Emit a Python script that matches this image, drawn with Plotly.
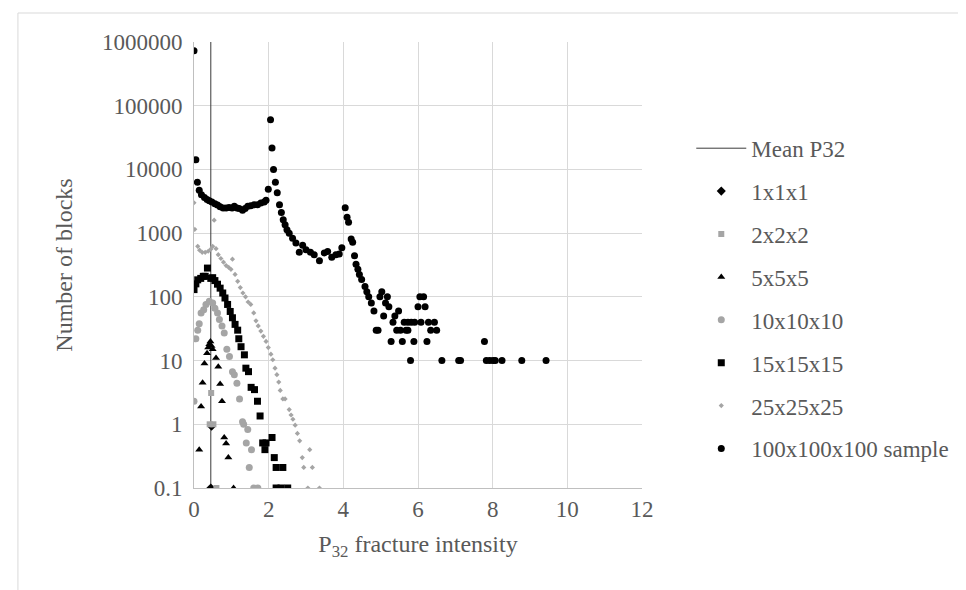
import plotly.graph_objects as go

# ---------------- data ----------------
mean_p32 = 0.45
mean_y = [0.1, 1000000]

x_1 = [0.47, 0.45]
y_1 = [0.93, 0.1]

x_2 = [0.46, 0.42, 0.52, 0.60]
y_2 = [3.1, 1.0, 1.0, 0.1]

x_5 = [0.14, 0.19, 0.23, 0.28, 0.35, 0.38, 0.41, 0.44, 0.47, 0.50, 0.59, 0.65, 0.70, 0.75, 0.81, 0.86, 0.92, 1.06]
y_5 = [0.4, 1.9, 4.5, 9, 13, 16, 18, 20, 17, 15, 11, 8, 4.3, 2.3, 0.62, 0.5, 0.3, 0.1]

x_10 = [0, 0.05, 0.10, 0.14, 0.19, 0.26, 0.32, 0.41, 0.50, 0.56, 0.63, 0.68, 0.75, 0.81, 0.88, 0.95, 1.03,
        1.08, 1.15, 1.22, 1.30, 1.33, 1.44, 1.40, 1.54, 1.48, 1.60, 1.71]
y_10 = [2.3, 22, 30, 38, 56, 63, 76, 85, 80, 66, 56, 44, 35, 27, 15, 11.6, 6.7,
        6.0, 4.4, 2.5, 1.1, 1.0, 0.83, 0.51, 0.40, 0.21, 0.1, 0.1]

x_15 = [0, 0.05, 0.10, 0.18, 0.25, 0.30, 0.36, 0.45, 0.50, 0.56, 0.63, 0.70, 0.77, 0.83, 0.90, 0.97, 1.03,
        1.10, 1.17, 1.20, 1.26, 1.35, 1.39, 1.46, 1.53, 1.62, 1.70, 1.77, 1.84, 1.90, 1.93, 2.09, 2.15,
        2.20, 2.38, 2.20, 2.33, 2.51]
y_15 = [130, 160, 185, 195, 210, 210, 283, 195, 200, 180, 158, 137, 115, 96, 76, 59, 47,
        37, 30, 22, 16.5, 12.3, 7.6, 6.7, 3.8, 3.5, 2.3, 1.35, 0.51, 0.40, 0.51, 0.62, 0.30,
        0.21, 0.21, 0.1, 0.1, 0.1]

x_25 = [0, 0.02, 0.10, 0.15, 0.22, 0.30, 0.38, 0.45, 0.54, 0.50, 0.59, 0.65, 0.72, 0.79, 0.86, 0.93,
        0.99, 1.03, 1.10, 1.17, 1.24, 1.31, 1.38, 1.45, 1.52, 1.60, 1.66, 1.72, 1.79, 1.86, 1.93,
        1.99, 2.06, 2.11, 2.17, 2.22, 2.27, 2.31, 2.38, 2.44, 2.55, 2.60, 2.65, 2.71, 2.77, 2.83,
        2.90, 2.94, 3.10, 3.17, 3.05, 3.36]
y_25 = [3000, 1150, 620, 540, 500, 500, 520, 560, 1600, 620, 570, 460, 400, 350, 310, 290,
        270, 390, 225, 175, 140, 115, 100, 83, 76, 56, 42, 35, 29, 24, 20,
        16, 12.6, 10.3, 7.6, 6.0, 4.6, 3.4, 2.5, 2.5, 1.7, 1.4, 1.2, 0.97, 0.72, 0.55,
        0.30, 0.21, 0.40, 0.21, 0.1, 0.1]

x_s = [0, 0.05, 0.09, 0.14, 0.20, 0.28, 0.35, 0.41, 0.48, 0.56, 0.63, 0.70, 0.78, 0.86, 0.94, 1.02,
       1.08, 1.15, 1.21, 1.30, 1.37, 1.44, 1.52, 1.61, 1.70, 1.79, 1.88, 1.93, 1.99, 2.05, 2.09,
       2.13, 2.18, 2.23, 2.29, 2.34, 2.39, 2.44, 2.49, 2.55, 2.64, 2.73, 2.82, 2.91, 3.00, 3.12,
       3.22, 3.36, 3.49, 3.58, 3.69, 3.80, 3.89, 3.96, 4.05, 4.10, 4.14, 4.21, 4.25, 4.30, 4.34,
       4.39, 4.43, 4.49, 4.58, 4.63, 4.68, 4.75, 4.82, 4.88, 4.93, 4.98, 5.03, 5.08, 5.13, 5.18,
       5.22, 5.28, 5.33, 5.38, 5.43, 5.48, 5.53, 5.58, 5.63, 5.68,
       5.73, 5.82, 5.91, 6.08, 6.28, 6.44, 5.73, 6.34, 6.50, 5.89, 6.24, 7.78, 6.05, 6.15, 6.00,
       6.19, 5.80, 6.64, 7.09, 7.14, 7.83, 7.92, 8.01, 8.07, 8.25, 8.78, 9.43]
y_s = [730000, 14200, 6300, 4700, 4000, 3640, 3380, 3230, 3080, 2900, 2760, 2600, 2480, 2480, 2530, 2480,
       2640, 2480, 2430, 2290, 2430, 2640, 2700, 2790, 2790, 2960, 3080, 3270, 4900, 60000, 21700,
       10000, 6300, 4300, 2800, 2100, 1620, 1350, 1130, 1000, 830, 700, 500, 645, 550, 500,
       460, 370, 490, 515, 420, 460, 470, 590, 2500, 1770, 1480, 810, 720, 440, 325,
       270, 225, 187, 146, 120, 100, 80, 60, 30, 30, 100, 120, 50, 80, 100,
       70, 20, 40, 50, 30, 60, 30, 20, 40, 30,
       40, 40, 40, 40, 40, 40, 30, 30, 30, 20, 20, 20, 100, 100, 70,
       70, 10, 10, 10, 10, 10, 10, 10, 10, 10, 10, 10]

y_tickvals = [0.1, 1, 10, 100, 1000, 10000, 100000, 1000000]
y_ticktext = ["0.1", "1", "10", "100", "1000", "10000", "100000", "1000000"]
x_tickvals = [0, 2, 4, 6, 8, 10, 12]

# ---------------- figure ----------------
BLACK = "#000000"
GRAY = "#A5A5A5"
FONT = "Liberation Serif, 'Times New Roman', 'DejaVu Serif', serif"
TXT = "#595959"

fig = go.Figure()
fig.add_trace(go.Scatter(x=[mean_p32, mean_p32], y=mean_y, mode="lines", name="Mean P32",
                         line=dict(color="#3a3a3a", width=1), legendgroup="a"))
fig.add_trace(go.Scatter(x=x_1, y=y_1, mode="markers", name="1x1x1", legendgroup="b",
                         marker=dict(symbol="diamond", size=7, color=BLACK)))
fig.add_trace(go.Scatter(x=x_2, y=y_2, mode="markers", name="2x2x2", legendgroup="c",
                         marker=dict(symbol="square", size=6, color=GRAY)))
fig.add_trace(go.Scatter(x=x_5, y=y_5, mode="markers", name="5x5x5", legendgroup="d",
                         marker=dict(symbol="triangle-up", size=7, color=BLACK)))
fig.add_trace(go.Scatter(x=x_10, y=y_10, mode="markers", name="10x10x10", legendgroup="e",
                         marker=dict(symbol="circle", size=7, color=GRAY)))
fig.add_trace(go.Scatter(x=x_15, y=y_15, mode="markers", name="15x15x15", legendgroup="f",
                         marker=dict(symbol="square", size=7, color=BLACK)))
fig.add_trace(go.Scatter(x=x_25, y=y_25, mode="markers", name="25x25x25", legendgroup="g",
                         marker=dict(symbol="diamond", size=4, color=GRAY)))
fig.add_trace(go.Scatter(x=x_s, y=y_s, mode="markers", name="100x100x100 sample", legendgroup="h",
                         marker=dict(symbol="circle", size=7, color=BLACK)))

fig.update_layout(
    width=966, height=590,
    margin=dict(l=186, r=332, t=34, b=110),
    paper_bgcolor="white", plot_bgcolor="white",
    font=dict(family=FONT, color=TXT, size=22),
    showlegend=True,
    legend=dict(x=1.11, y=0.81, xanchor="left", yanchor="top",
                font=dict(family=FONT, size=23, color=TXT),
                itemwidth=50, tracegroupgap=10, bgcolor="rgba(0,0,0,0)"),
    xaxis=dict(range=[0, 12], tickvals=x_tickvals, showgrid=True, gridcolor="#D9D9D9", gridwidth=1,
               showline=True, linecolor="#BFBFBF", linewidth=1, zeroline=False, ticks="",
               tickfont=dict(family=FONT, size=23, color=TXT),
               title=dict(text="P<sub>32</sub> fracture intensity",
                          font=dict(family=FONT, size=24, color=TXT), standoff=14)),
    yaxis=dict(type="log", range=[-1, 6], tickvals=y_tickvals, ticktext=y_ticktext,
               showgrid=True, gridcolor="#D9D9D9", gridwidth=1,
               showline=True, linecolor="#BFBFBF", linewidth=1, zeroline=False, ticks="",
               tickfont=dict(family=FONT, size=23, color=TXT), ticklabelstandoff=6,
               title=dict(text="Number of blocks", font=dict(family=FONT, size=24, color=TXT),
                          standoff=22)),
    shapes=[dict(type="rect", xref="paper", yref="paper", x0=-0.393, x1=1.74, y0=-0.3, y1=1.065,
                 line=dict(color="#D9D9D9", width=1), fillcolor="rgba(0,0,0,0)", layer="below")],
)

fig.write_html("out.html")
